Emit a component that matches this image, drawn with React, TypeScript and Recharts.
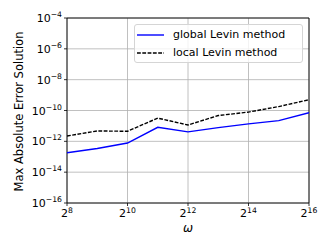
import React from 'react';
import { LineChart, Line, XAxis, YAxis, CartesianGrid, Legend, ReferenceArea } from 'recharts';

const omega = [256, 512, 1024, 2048, 4096, 8192, 16384, 32768, 65536];
const globalLevin = [1.8e-13, 3.4e-13, 7.8e-13, 8.1e-12, 4.1e-12, 7.8e-12, 1.35e-11, 2.2e-11, 7.2e-11];
const localLevin = [2.2e-12, 4.7e-12, 4.5e-12, 3.2e-11, 1.15e-11, 4.7e-11, 7.9e-11, 1.8e-10, 5.0e-10];
const xTicks = [256, 1024, 4096, 16384, 65536];
const yTicks = [1e-16, 1e-14, 1e-12, 1e-10, 1e-8, 1e-6, 1e-4];
const seriesNames = ['global Levin method', 'local Levin method'];

const data = omega.map((w, i) => ({ omega: w, global: globalLevin[i], local: localLevin[i] }));

const FONT = 'DejaVu Sans';
const DASH = '3.8 1.5';

const YTick = (props: any) => {
  const { x, y, payload } = props;
  const e = Math.round(Math.log10(payload.value));
  return (
    <text x={x} y={y + 4} textAnchor="end" fontFamily={FONT} fontSize={11} fill="#000">
      <tspan>10</tspan>
      <tspan dy={-5} fontSize={7.7}>{'\u2212' + Math.abs(e)}</tspan>
    </text>
  );
};

const XTick = (props: any) => {
  const { x, y, payload } = props;
  const e = Math.round(Math.log2(payload.value));
  return (
    <text x={x} y={y + 9} textAnchor="middle" fontFamily={FONT} fontSize={11} fill="#000">
      <tspan>2</tspan>
      <tspan dy={-4.5} fontSize={7.7}>{String(e)}</tspan>
    </text>
  );
};

const LegendBox = () => (
  <div
    style={{
      boxSizing: 'border-box',
      width: 169,
      height: 39,
      border: '1px solid #d5d5d5',
      borderRadius: 3,
      background: 'rgba(255,255,255,0.8)',
      paddingTop: 1,
      fontFamily: FONT,
      fontSize: 11,
      color: '#000',
    }}
  >
    {seriesNames.map((name, i) => (
      <div key={name} style={{ display: 'flex', alignItems: 'center', height: 18, lineHeight: '18px' }}>
        <svg width={27} height={18} style={{ marginLeft: 2, display: 'block' }}>
          <line
            x1={0}
            x2={27}
            y1={9}
            y2={9}
            stroke={i === 0 ? '#0000ff' : '#000'}
            strokeWidth={1.4}
            strokeDasharray={i === 0 ? undefined : DASH}
          />
        </svg>
        <span style={{ marginLeft: 9, whiteSpace: 'nowrap' }}>{name}</span>
      </div>
    ))}
  </div>
);

export default function App() {
  return (
    <div style={{ position: 'fixed', left: 0, top: 0, width: 332, height: 249, background: '#fff' }}>
      <LineChart width={332} height={249} data={data} margin={{ top: 18, right: 23, bottom: 0, left: 0 }}>
        <CartesianGrid stroke="#b0b0b0" strokeWidth={0.8} />
        <XAxis
          dataKey="omega"
          type="number"
          scale="log"
          domain={[256, 65536]}
          ticks={xTicks}
          allowDataOverflow
          height={46}
          axisLine={false}
          tickLine={{ stroke: '#000', strokeWidth: 0.8 }}
          tickSize={3}
          tick={<XTick />}
          interval={0}
          label={{
            content: (p: any) => {
              const vb = p.viewBox;
              return (
                <text
                  x={vb.x + vb.width / 2}
                  y={vb.y + 28.5}
                  textAnchor="middle"
                  fontFamily={FONT}
                  fontSize={12}
                  fontStyle="italic"
                  fill="#000"
                >
                  ω
                </text>
              );
            },
          }}
        />
        <YAxis
          type="number"
          scale="log"
          domain={[1e-16, 1e-4]}
          ticks={yTicks}
          allowDataOverflow
          width={67}
          axisLine={false}
          tickLine={{ stroke: '#000', strokeWidth: 0.8 }}
          tickSize={3}
          tick={<YTick />}
          interval={0}
          label={{
            content: (p: any) => {
              const vb = p.viewBox;
              const cx = 22.5;
              const cy = vb.y + vb.height / 2 + 1;
              return (
                <text
                  x={cx}
                  y={cy}
                  transform={`rotate(-90 ${cx} ${cy})`}
                  textAnchor="middle"
                  fontFamily={FONT}
                  fontSize={11.5}
                  fill="#000"
                >
                  Max Absolute Error Solution
                </text>
              );
            },
          }}
        />
        <ReferenceArea
          x1={256}
          x2={65536}
          y1={1e-16}
          y2={1e-4}
          fill="none"
          fillOpacity={0}
          stroke="#000"
          strokeWidth={0.9}
          ifOverflow="visible"
        />
        <Line
          dataKey="global"
          name={seriesNames[0]}
          stroke="#0000ff"
          strokeWidth={1.4}
          dot={false}
          isAnimationActive={false}
        />
        <Line
          dataKey="local"
          name={seriesNames[1]}
          stroke="#000"
          strokeWidth={1.4}
          strokeDasharray={DASH}
          dot={false}
          isAnimationActive={false}
        />
        <Legend
          layout="vertical"
          align="center"
          verticalAlign="middle"
          content={<LegendBox />}
          wrapperStyle={{ left: 134, top: 24, width: 169, height: 39 }}
        />
      </LineChart>
    </div>
  );
}
